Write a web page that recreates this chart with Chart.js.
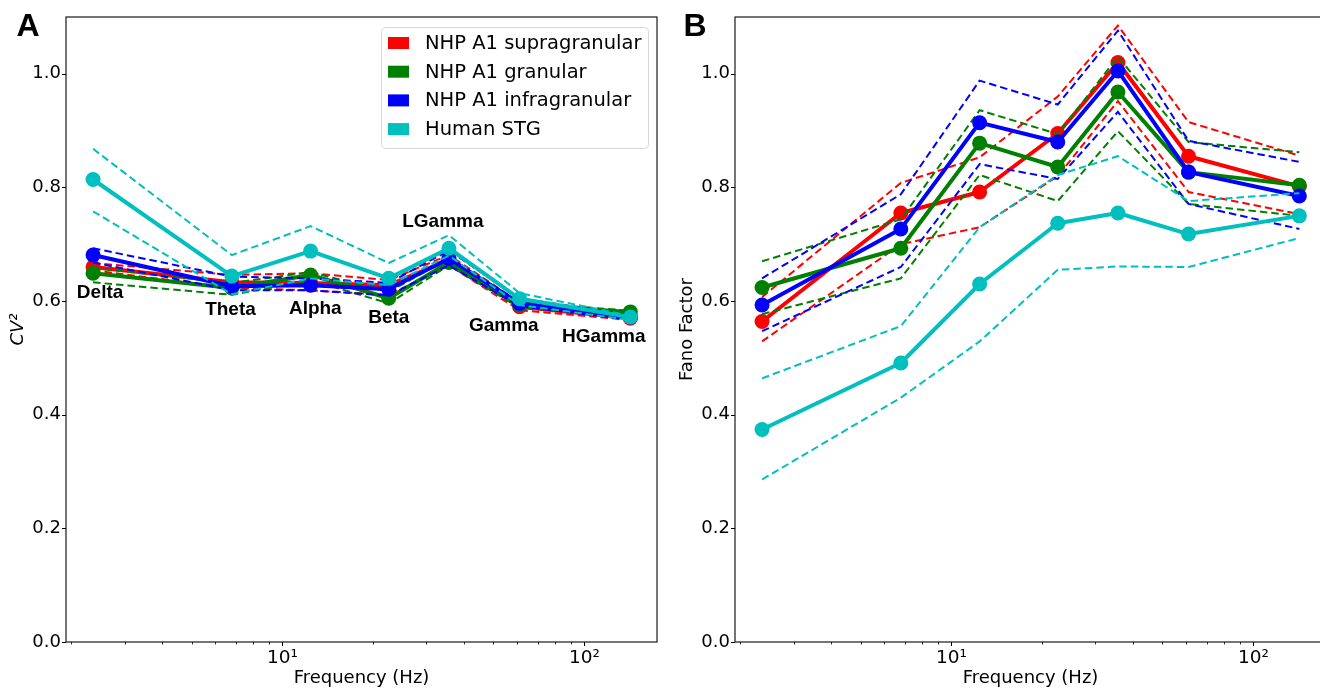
<!DOCTYPE html>
<html>
<head>
<meta charset="utf-8">
<script src="https://cdn.jsdelivr.net/npm/chart.js@4/dist/chart.umd.min.js"></script>
<style>
  html, body { margin: 0; padding: 0; background: #fff; }
  body { width: 1320px; height: 688px; overflow: hidden; position: relative; }
  .panel { position: absolute; top: 0; width: 669px; height: 688px; }
</style>
</head>
<body>
<div class="panel" style="left:0"><canvas id="cvChart" width="669" height="688"></canvas></div>
<div class="panel" style="left:669px"><canvas id="fanoChart" width="669" height="688"></canvas></div>
<script>
// Band centre frequencies (Hz) and names
const bandFreqs = [2.36, 6.8, 12.4, 22.5, 35.6, 61, 142];
const bandNames = ["Delta", "Theta", "Alpha", "Beta", "LGamma", "Gamma", "HGamma"];
// where each band name sits on the CV² panel
const bandLabelFreqs = [2.49, 6.73, 12.85, 22.5, 34.0, 54.1, 116];
const bandLabelCv = [0.615, 0.584, 0.586, 0.571, 0.739, 0.556, 0.538];

const seriesNames = ["NHP A1 supragranular", "NHP A1 granular", "NHP A1 infragranular", "Human STG"];

// CV² : mean, upper and lower bound per layer
const supraCv   = [0.660, 0.633, 0.632, 0.628, 0.672, 0.590, 0.570];
const supraCvHi = [0.667, 0.646, 0.649, 0.637, 0.681, 0.598, 0.574];
const supraCvLo = [0.654, 0.623, 0.619, 0.611, 0.663, 0.584, 0.567];
const granCv    = [0.649, 0.623, 0.646, 0.605, 0.668, 0.593, 0.581];
const granCvHi  = [0.658, 0.632, 0.651, 0.616, 0.675, 0.598, 0.583];
const granCvLo  = [0.633, 0.611, 0.637, 0.596, 0.663, 0.588, 0.576];
const infraCv   = [0.681, 0.626, 0.628, 0.621, 0.675, 0.596, 0.572];
const infraCvHi = [0.693, 0.643, 0.640, 0.632, 0.689, 0.605, 0.575];
const infraCvLo = [0.668, 0.619, 0.619, 0.610, 0.663, 0.591, 0.567];
const stgCv     = [0.814, 0.644, 0.688, 0.640, 0.693, 0.604, 0.572];
const stgCvHi   = [0.868, 0.681, 0.732, 0.667, 0.716, 0.614, 0.574];
const stgCvLo   = [0.758, 0.612, 0.640, 0.628, 0.680, 0.593, 0.567];

// Fano factor : mean, upper and lower bound per layer
const supraFf   = [0.564, 0.755, 0.792, 0.895, 1.020, 0.855, 0.802];
const supraFfHi = [0.607, 0.808, 0.853, 0.960, 1.085, 0.915, 0.856];
const supraFfLo = [0.529, 0.700, 0.730, 0.820, 0.952, 0.792, 0.753];
const granFf    = [0.624, 0.693, 0.878, 0.836, 0.968, 0.827, 0.804];
const granFfHi  = [0.670, 0.744, 0.936, 0.894, 1.030, 0.880, 0.862];
const granFfLo  = [0.577, 0.640, 0.822, 0.776, 0.899, 0.771, 0.750];
const infraFf   = [0.593, 0.727, 0.914, 0.880, 1.005, 0.827, 0.785];
const infraFfHi = [0.640, 0.788, 0.988, 0.946, 1.076, 0.882, 0.845];
const infraFfLo = [0.547, 0.660, 0.841, 0.815, 0.933, 0.771, 0.727];
const stgFf     = [0.374, 0.491, 0.630, 0.737, 0.755, 0.718, 0.750];
const stgFfHi   = [0.464, 0.556, 0.730, 0.822, 0.855, 0.776, 0.790];
const stgFfLo   = [0.286, 0.430, 0.529, 0.655, 0.661, 0.660, 0.711];

const yTickValues = [0, 0.2, 0.4, 0.6, 0.8, 1.0];
const xTickValues = [2, 3, 4, 5, 6, 7, 8, 9, 10, 20, 30, 40, 50, 60, 70, 80, 90, 100, 200];

const colors = ["#ff0000", "#008000", "#0000ff", "#00bfbf"];
const FONT = "'DejaVu Sans'";

function toPoints(vals) {
  return bandFreqs.map((f, i) => ({ x: f, y: vals[i] }));
}

// one solid line with markers plus two dashed bounds per group
function buildDatasets(groups) {
  const sets = [];
  groups.forEach(([mean, hi, lo], g) => {
    const c = colors[g];
    sets.push({
      label: seriesNames[g], data: toPoints(mean), borderColor: c, backgroundColor: c,
      borderWidth: 4, pointRadius: 7.5, pointHoverRadius: 7.5, pointBorderWidth: 0,
      borderJoinStyle: "round"
    });
    [hi, lo].forEach(b => sets.push({
      label: "", data: toPoints(b), borderColor: c, borderWidth: 2,
      borderDash: [7.5, 4], pointRadius: 0, pointHoverRadius: 0
    }));
  });
  // later groups draw on top
  sets.forEach((s, i) => { s.order = sets.length - i; });
  return sets;
}

const framePlugin = {
  id: "frame",
  afterDraw(chart) {
    const { ctx, chartArea: a, scales } = chart;
    const opts = chart.options.plugins.frame;
    ctx.save();

    // box round the axes
    ctx.strokeStyle = "#1a1a1a";
    ctx.lineWidth = 1.2;
    ctx.strokeRect(a.left, a.top, a.right - a.left, a.bottom - a.top);

    // tick marks
    ctx.strokeStyle = "#000";
    ctx.lineWidth = 1;
    yTickValues.forEach(v => {
      const y = Math.round(scales.y.getPixelForValue(v)) + 0.5;
      ctx.beginPath(); ctx.moveTo(a.left - 4, y); ctx.lineTo(a.left, y); ctx.stroke();
    });
    xTickValues.forEach(v => {
      if (v < scales.x.min || v > scales.x.max) return;
      const x = Math.round(scales.x.getPixelForValue(v)) + 0.5;
      const major = Math.log10(v) % 1 === 0;
      ctx.lineWidth = major ? 1 : 0.8;
      ctx.beginPath(); ctx.moveTo(x, a.bottom); ctx.lineTo(x, a.bottom + (major ? 4 : 2.5)); ctx.stroke();
    });

    // panel letter
    ctx.fillStyle = "#000";
    ctx.font = "bold 32px 'Liberation Sans'";
    ctx.textAlign = "center";
    ctx.textBaseline = "alphabetic";
    ctx.fillText(opts.letter, opts.letterX, 36);

    if (opts.bandLabels) {
      ctx.font = "bold 19px 'Liberation Sans'";
      ctx.textBaseline = "middle";
      bandNames.forEach((name, i) => {
        ctx.fillText(name, scales.x.getPixelForValue(bandLabelFreqs[i]),
          scales.y.getPixelForValue(bandLabelCv[i]));
      });
    }

    if (opts.legend) {
      const w = 267, h = 121;
      const lx = a.right - 9 - w, ly = a.top + 10;
      ctx.fillStyle = "rgba(255,255,255,0.8)";
      ctx.strokeStyle = "#d6d6d6";
      ctx.lineWidth = 1;
      ctx.beginPath();
      ctx.roundRect(lx + 0.5, ly + 0.5, w, h, 4);
      ctx.fill(); ctx.stroke();
      ctx.font = "19.5px " + FONT;
      ctx.textAlign = "left";
      ctx.textBaseline = "middle";
      seriesNames.forEach((name, i) => {
        const ry = ly + 16 + i * 28.7;
        ctx.fillStyle = colors[i];
        ctx.fillRect(lx + 7, ry - 6, 21, 12);
        ctx.fillStyle = "#000";
        ctx.fillText(name, lx + 44, ry + 1);
      });
    }
    ctx.restore();
  }
};

function makeChart(id, groups, yTitle, yTitleItalic, frame) {
  return new Chart(document.getElementById(id), {
    type: "line",
    data: { datasets: buildDatasets(groups) },
    options: {
      responsive: false,
      animation: false,
      devicePixelRatio: 1,
      layout: { padding: { top: 17, right: 12, left: 0, bottom: 0 } },
      plugins: {
        legend: { display: false },
        tooltip: { enabled: false },
        frame: frame
      },
      scales: {
        x: {
          type: "logarithmic",
          min: 1.92, max: 174,
          bounds: "data",
          afterBuildTicks: s => {
            s.ticks = xTickValues.filter(v => v >= s.min && v <= s.max).map(v => ({ value: v }));
          },
          afterFit: s => { s.height = 46; },
          grid: { display: false, drawTicks: false },
          border: { display: false },
          ticks: {
            autoSkip: false, maxRotation: 0, minRotation: 0, padding: 5, color: "#000",
            font: { family: FONT, size: 18.5 },
            callback: v => (v === 10 ? "10¹" : v === 100 ? "10²" : "")
          },
          title: {
            display: true, text: "Frequency (Hz)", color: "#000",
            font: { family: FONT, size: 18 }, padding: { top: 0, bottom: -1 }
          }
        },
        y: {
          min: 0, max: 1.1,
          bounds: "data",
          afterBuildTicks: s => { s.ticks = yTickValues.map(v => ({ value: v })); },
          afterFit: s => { s.width = 66; },
          grid: { display: false, drawTicks: false },
          border: { display: false },
          ticks: {
            padding: 5, color: "#000",
            font: { family: FONT, size: 18 },
            callback: v => Number(v).toFixed(1)
          },
          title: {
            display: true, text: yTitle, color: "#000",
            font: { family: FONT, size: 18, style: yTitleItalic ? "italic" : "normal" },
            padding: { top: 8, bottom: 0 }
          }
        }
      }
    },
    plugins: [framePlugin]
  });
}

makeChart("cvChart", [
  [supraCv, supraCvHi, supraCvLo],
  [granCv, granCvHi, granCvLo],
  [infraCv, infraCvHi, infraCvLo],
  [stgCv, stgCvHi, stgCvLo]
], "CV²", true, { letter: "A", letterX: 28, bandLabels: true, legend: true });

makeChart("fanoChart", [
  [supraFf, supraFfHi, supraFfLo],
  [granFf, granFfHi, granFfLo],
  [infraFf, infraFfHi, infraFfLo],
  [stgFf, stgFfHi, stgFfLo]
], "Fano Factor", false, { letter: "B", letterX: 26, bandLabels: false, legend: false });
</script>
</body>
</html>
